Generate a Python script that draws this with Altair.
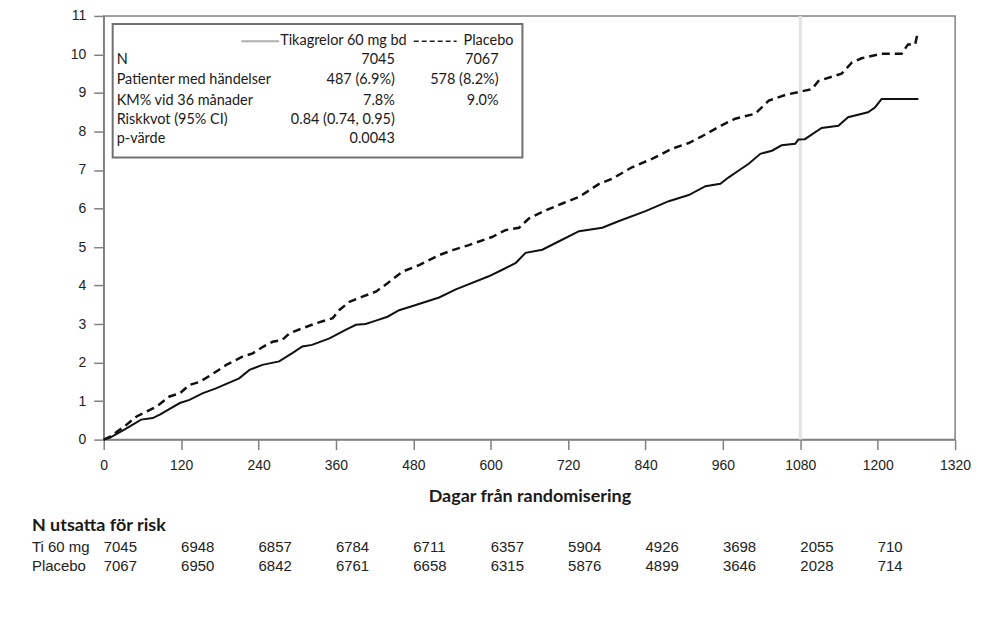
import altair as alt
import pandas as pd

# ---- curve data (days, cumulative %) ----
ti_days = [0, 10, 32, 58, 76, 87, 118, 133, 153, 174, 210, 226, 246, 272, 293, 308, 323, 350, 375, 391,
           406, 422, 440, 458, 479, 520, 546, 597, 618, 639, 654, 680, 706, 737, 773, 798, 840, 876, 907, 933,
           956, 969, 984, 1000, 1018, 1036, 1051, 1072, 1077, 1087, 1113, 1139, 1154, 1185, 1196, 1206, 1263]
ti_vals = [0, 0.05, 0.26, 0.52, 0.56, 0.65, 0.95, 1.03, 1.2, 1.33, 1.59, 1.81, 1.94, 2.03, 2.25, 2.42, 2.46, 2.63, 2.85, 2.98,
           3.0, 3.09, 3.19, 3.36, 3.47, 3.69, 3.9, 4.24, 4.41, 4.59, 4.85, 4.93, 5.15, 5.41, 5.5, 5.67, 5.93, 6.19, 6.35, 6.58,
           6.64, 6.81, 6.98, 7.16, 7.42, 7.5, 7.64, 7.68, 7.79, 7.8, 8.09, 8.15, 8.37, 8.5, 8.63, 8.84, 8.84]

pl_days = [0, 10, 32, 51, 82, 102, 118, 133, 149, 174, 190, 216, 231, 247, 262, 277, 288, 308, 329, 355,
           365, 381, 401, 422, 440, 463, 489, 520, 541, 566, 602, 623, 644, 659, 685, 711, 737, 768, 788, 819,
           850, 881, 907, 927, 958, 979, 1010, 1031, 1057, 1087, 1098, 1108, 1144, 1160, 1175, 1206, 1237, 1247, 1258, 1262]
pl_vals = [0, 0.08, 0.34, 0.6, 0.86, 1.12, 1.2, 1.42, 1.5, 1.76, 1.94, 2.16, 2.24, 2.41, 2.54, 2.59, 2.76, 2.89, 3.02, 3.15,
           3.36, 3.58, 3.71, 3.84, 4.06, 4.36, 4.53, 4.79, 4.92, 5.05, 5.26, 5.44, 5.5, 5.74, 5.95, 6.13, 6.3, 6.64, 6.77, 7.07,
           7.29, 7.55, 7.7, 7.87, 8.16, 8.33, 8.46, 8.8, 8.95, 9.06, 9.1, 9.31, 9.5, 9.79, 9.9, 10.02, 10.02, 10.26, 10.26, 10.56]

# ---- axis ticks ----
x_ticks = [0, 120, 240, 360, 480, 600, 720, 840, 960, 1080, 1200, 1320]
y_ticks = [0, 1, 2, 3, 4, 5, 6, 7, 8, 9, 10, 11]
ref_day = [1080]

# ---- number at risk ----
risk_days = [0, 120, 240, 360, 480, 600, 720, 840, 960, 1080, 1200]
risk_ti = [7045, 6948, 6857, 6784, 6711, 6357, 5904, 4926, 3698, 2055, 710]
risk_pl = [7067, 6950, 6842, 6761, 6658, 6315, 5876, 4899, 3646, 2028, 714]
risk_header = "N utsatta för risk"
risk_rows = ["Ti 60 mg", "Placebo"]

# ---- legend box table ----
leg_series = ["Tikagrelor 60 mg bd", "Placebo"]
leg_rows = ["N", "Patienter med händelser", "KM% vid 36 månader", "Riskkvot (95% CI)", "p-värde"]
leg_col1 = ["7045", "487 (6.9%)", "7.8%", "0.84 (0.74, 0.95)", "0.0043"]
leg_col2 = ["7067", "578 (8.2%)", "9.0%", "", ""]

W, H = 854, 425
xs = alt.Scale(domain=[0, 1320], nice=False)
ys = alt.Scale(domain=[0, 11], nice=False)

df_ti = pd.DataFrame({"day": ti_days, "pct": ti_vals})
df_pl = pd.DataFrame({"day": pl_days, "pct": pl_vals})

x_axis = alt.Axis(
    values=x_ticks, format="d", title="Dagar från randomisering", grid=False,
    titleFont="Lato", titleFontSize=18, titleFontWeight="bold", titleColor="#1a1a1a",
    titlePadding=15, labelPadding=9, tickSize=10, labelFlush=False, labelOverlap=False)
y_axis = alt.Axis(
    values=y_ticks, format="d", title=None, grid=False, tickSize=10, labelPadding=8,
    labelOverlap=False, tickCount=12)

X = alt.X("day:Q", scale=xs, axis=x_axis)
Y = alt.Y("pct:Q", scale=ys, axis=y_axis)

ref = alt.Chart(pd.DataFrame({"day": ref_day})).mark_rule(
    color="#e2e2e2", strokeWidth=3).encode(x=X)

line_ti = alt.Chart(df_ti).mark_line(color="#111", strokeWidth=2).encode(
    x=X, y=Y, order="day:Q")
line_pl = alt.Chart(df_pl).mark_line(color="#111", strokeWidth=2.5, strokeDash=[8, 5]).encode(
    x=X, y=Y, order="day:Q")

layers = [ref, line_ti, line_pl]

# legend box (pixel coordinates within plot area)
box = alt.Chart(pd.DataFrame({"a": [0]})).mark_rect(
    fill="white", stroke="#707070", strokeWidth=2).encode(
    x=alt.value(9), x2=alt.value(420), y=alt.value(8), y2=alt.value(142))
layers.append(box)

sample_solid = alt.Chart(pd.DataFrame({"a": [0]})).mark_rule(color="#b0b0b0", strokeWidth=2).encode(
    x=alt.value(138), x2=alt.value(176), y=alt.value(25.5))
sample_dash = alt.Chart(pd.DataFrame({"a": [0]})).mark_rule(color="#222", strokeWidth=1.5,
                                                             strokeDash=[5, 3]).encode(
    x=alt.value(311), x2=alt.value(354), y=alt.value(25.5))
layers += [sample_solid, sample_dash]

FONT_LEG = "Lato"
LEG_SIZE = 14.5
def txt(s, x, y, align="left", font=FONT_LEG, size=LEG_SIZE, weight="normal", color="#1a1a1a"):
    return alt.Chart(pd.DataFrame({"t": [s]})).mark_text(
        align=align, baseline="middle", font=font, fontSize=size, fontWeight=weight, color=color
    ).encode(x=alt.value(x), y=alt.value(y), text="t:N")

layers.append(txt(leg_series[0], 177, 25))
layers.append(txt(leg_series[1], 411, 25, align="right"))
row_y = [44, 64.5, 85, 104, 123]
for i, lab in enumerate(leg_rows):
    layers.append(txt(lab, 13, row_y[i]))
    layers.append(txt(leg_col1[i], 292, row_y[i], align="right"))
    if leg_col2[i]:
        layers.append(txt(leg_col2[i], 396, row_y[i], align="right"))

# number at risk table
layers.append(txt(risk_header, -72, 512, font="Lato", size=18, weight="bold", color="#1a1a1a"))
layers.append(txt(risk_rows[0], -72, 533, font="Liberation Sans", size=15, color="#222"))
layers.append(txt(risk_rows[1], -72, 552, font="Liberation Sans", size=15, color="#222"))

df_risk_ti = pd.DataFrame({"day": risk_days, "n": [str(v) for v in risk_ti]})
df_risk_pl = pd.DataFrame({"day": risk_days, "n": [str(v) for v in risk_pl]})
for dfr, yy in [(df_risk_ti, 533), (df_risk_pl, 552)]:
    layers.append(alt.Chart(dfr).mark_text(
        align="left", baseline="middle", font="Liberation Sans", fontSize=15, color="#222"
    ).encode(x=X, y=alt.value(yy), text="n:N"))

chart = alt.layer(*layers).properties(
    width=W, height=H,
    autosize=alt.AutoSizeParams(type="none"),
    padding={"left": 96, "top": 7, "right": 40, "bottom": 180},
    background="white",
).configure_view(
    stroke="#808080", strokeWidth=1.5
).configure_axis(
    domainColor="#808080", domainWidth=1.5, tickColor="#808080", tickWidth=1.5,
    labelFont="Liberation Sans", labelFontSize=14, labelColor="#222"
)

chart.save("out.html", embed_options={"renderer": "svg", "actions": False})
